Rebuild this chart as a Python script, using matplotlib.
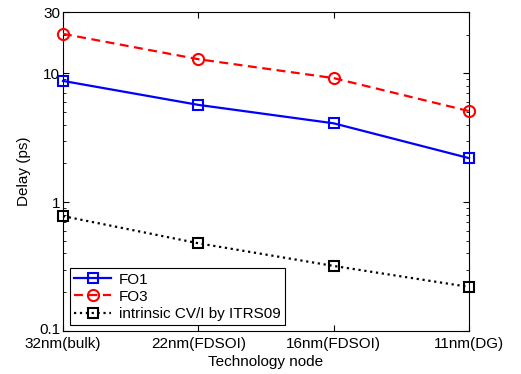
import matplotlib
matplotlib.use("Agg")
import matplotlib.pyplot as plt
import matplotlib.transforms as mtransforms
from matplotlib.ticker import FixedLocator, LogLocator, NullFormatter

plt.rcParams['font.family'] = ['Liberation Sans', 'DejaVu Sans']

categories = ['32nm(bulk)', '22nm(FDSOI)', '16nm(FDSOI)', '11nm(DG)']
fo1 = [8.75, 5.7, 4.1, 2.2]
fo3 = [20.3, 12.9, 9.2, 5.1]
itrs = [0.78, 0.48, 0.32, 0.22]
y_ticks = [0.1, 1, 10, 30]
y_tick_labels = ['0.1', '1', '10', '30']

fs = 11
fig = plt.figure(figsize=(5.21, 3.74), dpi=100)
ax = fig.add_axes([63/521, 1-331/374, (469-63)/521, (331-12)/374])

x = list(range(len(categories)))
ax.plot(x, fo1, '-', color='#0000ff', lw=1.6, marker='s', ms=7, mfc='none',
        mew=1.5, label='FO1', clip_on=False, zorder=3)
ax.plot(x, fo3, '--', color='#ff0000', lw=1.6, marker='o', ms=8, mfc='none',
        mew=1.5, label='FO3', clip_on=False, zorder=3, dashes=(4, 2.5))
ax.plot(x, itrs, ':', color='black', lw=1.6, marker='s', ms=7, mfc='none',
        mew=1.5, label='intrinsic CV/I by ITRS09', clip_on=False, zorder=3)

ax.set_yscale('log')
ax.set_ylim(0.1, 30)
ax.set_xlim(0, 3)
ax.set_xticks(x)
ax.set_xticklabels(categories, fontsize=fs)
ax.yaxis.set_major_locator(FixedLocator(y_ticks))
ax.set_yticklabels(y_tick_labels, fontsize=fs)
ax.yaxis.set_minor_locator(LogLocator(base=10, subs=range(2, 10)))
ax.yaxis.set_minor_formatter(NullFormatter())
ax.tick_params(which='both', direction='in', top=True, right=True)
ax.tick_params(which='major', length=4, width=0.8, pad=2)
ax.tick_params(axis='x', which='major', pad=4)
ax.tick_params(which='minor', length=2.5, width=0.6)
for s in ax.spines.values():
    s.set_linewidth(0.8)

# nudge the lowest y label up a little so it sits above the x labels
shift = mtransforms.ScaledTranslation(0, 3/100, fig.dpi_scale_trans)
for lbl in ax.get_yticklabels():
    if lbl.get_text() == '0.1':
        lbl.set_transform(lbl.get_transform() + shift)

ax.set_xlabel('Technology node', fontsize=fs, labelpad=3)
ax.set_ylabel('Delay (ps)', fontsize=fs, labelpad=6)

leg = ax.legend(loc='lower left', bbox_to_anchor=(0.005, 0.003), fontsize=fs,
                fancybox=False, edgecolor='black', framealpha=1,
                handlelength=2.4, borderpad=0.3, labelspacing=0.2,
                handletextpad=0.5, borderaxespad=0.3)
leg.get_frame().set_linewidth(0.8)

fig.savefig('out.png', dpi=100)
